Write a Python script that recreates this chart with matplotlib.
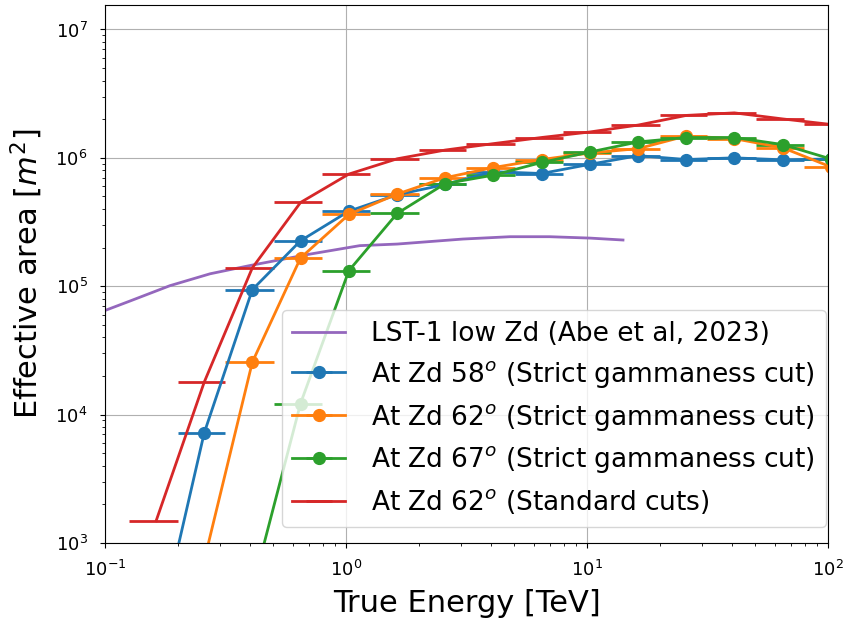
import numpy as np
import matplotlib
matplotlib.use("Agg")
import matplotlib.pyplot as plt

# energy bin edges [TeV]
e_edges = np.array([0.126, 0.200, 0.316, 0.501, 0.794, 1.26, 2.00, 3.16,
                    5.01, 7.94, 12.6, 20.0, 31.6, 50.1, 79.4, 126.0])

# effective areas [m^2] per bin (nan = not available)
aeff_58 = [1.7e2, 7.2e3, 9.4e4, 2.26e5, 3.84e5, 5.16e5, 6.2e5, 7.8e5,
           7.55e5, 8.9e5, 1.04e6, 9.7e5, 1.0e6, 9.65e5, 9.8e5]
aeff_62 = [np.nan, 7.3e2, 2.56e4, 1.66e5, 3.62e5, 5.22e5, 7.0e5, 8.4e5,
           9.7e5, 1.09e6, 1.18e6, 1.48e6, 1.41e6, 1.2e6, 8.5e5]
aeff_67 = [np.nan, np.nan, 4.4e2, 1.22e4, 1.32e5, 3.69e5, 6.3e5, 7.33e5,
           9.2e5, 1.11e6, 1.33e6, 1.44e6, 1.44e6, 1.27e6, 9.8e5]
aeff_62_std = [1.49e3, 1.79e4, 1.39e5, 4.49e5, 7.47e5, 9.83e5, 1.15e6, 1.29e6,
               1.44e6, 1.59e6, 1.8e6, 2.14e6, 2.24e6, 2.01e6, 1.82e6]

# LST-1 low zenith reference curve
lst_energy = [0.1, 0.127, 0.186, 0.273, 0.40, 0.71, 1.14, 1.63, 3.05, 4.79,
              7.0, 10.3, 14.1]
lst_aeff = [6.47e4, 7.67e4, 1.01e5, 1.25e5, 1.45e5, 1.78e5, 2.07e5, 2.13e5,
            2.33e5, 2.43e5, 2.43e5, 2.37e5, 2.29e5]

e_lo = e_edges[:-1]
e_hi = e_edges[1:]
e_c = (e_lo + e_hi) / 2
xerr = [e_c - e_lo, e_hi - e_c]

fig = plt.figure(figsize=(8.47, 6.28), dpi=100)
ax = fig.add_axes([0.124, 0.1354, 0.8536, 0.8566])

ax.plot(lst_energy, lst_aeff, color="C4", lw=2, label="LST-1 low Zd (Abe et al, 2023)")
ax.errorbar(e_c, aeff_58, xerr=xerr, fmt="o-", color="C0", ms=8.5, lw=2,
            label="At Zd 58$^o$ (Strict gammaness cut)")
ax.errorbar(e_c, aeff_62, xerr=xerr, fmt="o-", color="C1", ms=8.5, lw=2,
            label="At Zd 62$^o$ (Strict gammaness cut)")
ax.errorbar(e_c, aeff_67, xerr=xerr, fmt="o-", color="C2", ms=8.5, lw=2,
            label="At Zd 67$^o$ (Strict gammaness cut)")
ax.errorbar(e_c, aeff_62_std, xerr=xerr, fmt="-", color="C3", lw=2,
            label="At Zd 62$^o$ (Standard cuts)")

ax.set_xscale("log")
ax.set_yscale("log")
ax.set_xlim(0.1, 100)
ax.set_ylim(1e3, 1.55e7)
ax.grid(True, which="major")
ax.tick_params(which="major", labelsize=13, pad=9)
ax.set_xlabel("True Energy [TeV]", fontsize=22)
ax.set_ylabel("Effective area [$m^2$]", fontsize=22)
ax.xaxis.set_label_coords(0.5, -0.085)
ax.yaxis.set_label_coords(-0.083, 0.5)
ax.legend(loc="lower right", bbox_to_anchor=(0.997, 0.03), borderaxespad=0,
          fontsize=19, handletextpad=1.0, labelspacing=0.45)

fig.savefig("out.png")
